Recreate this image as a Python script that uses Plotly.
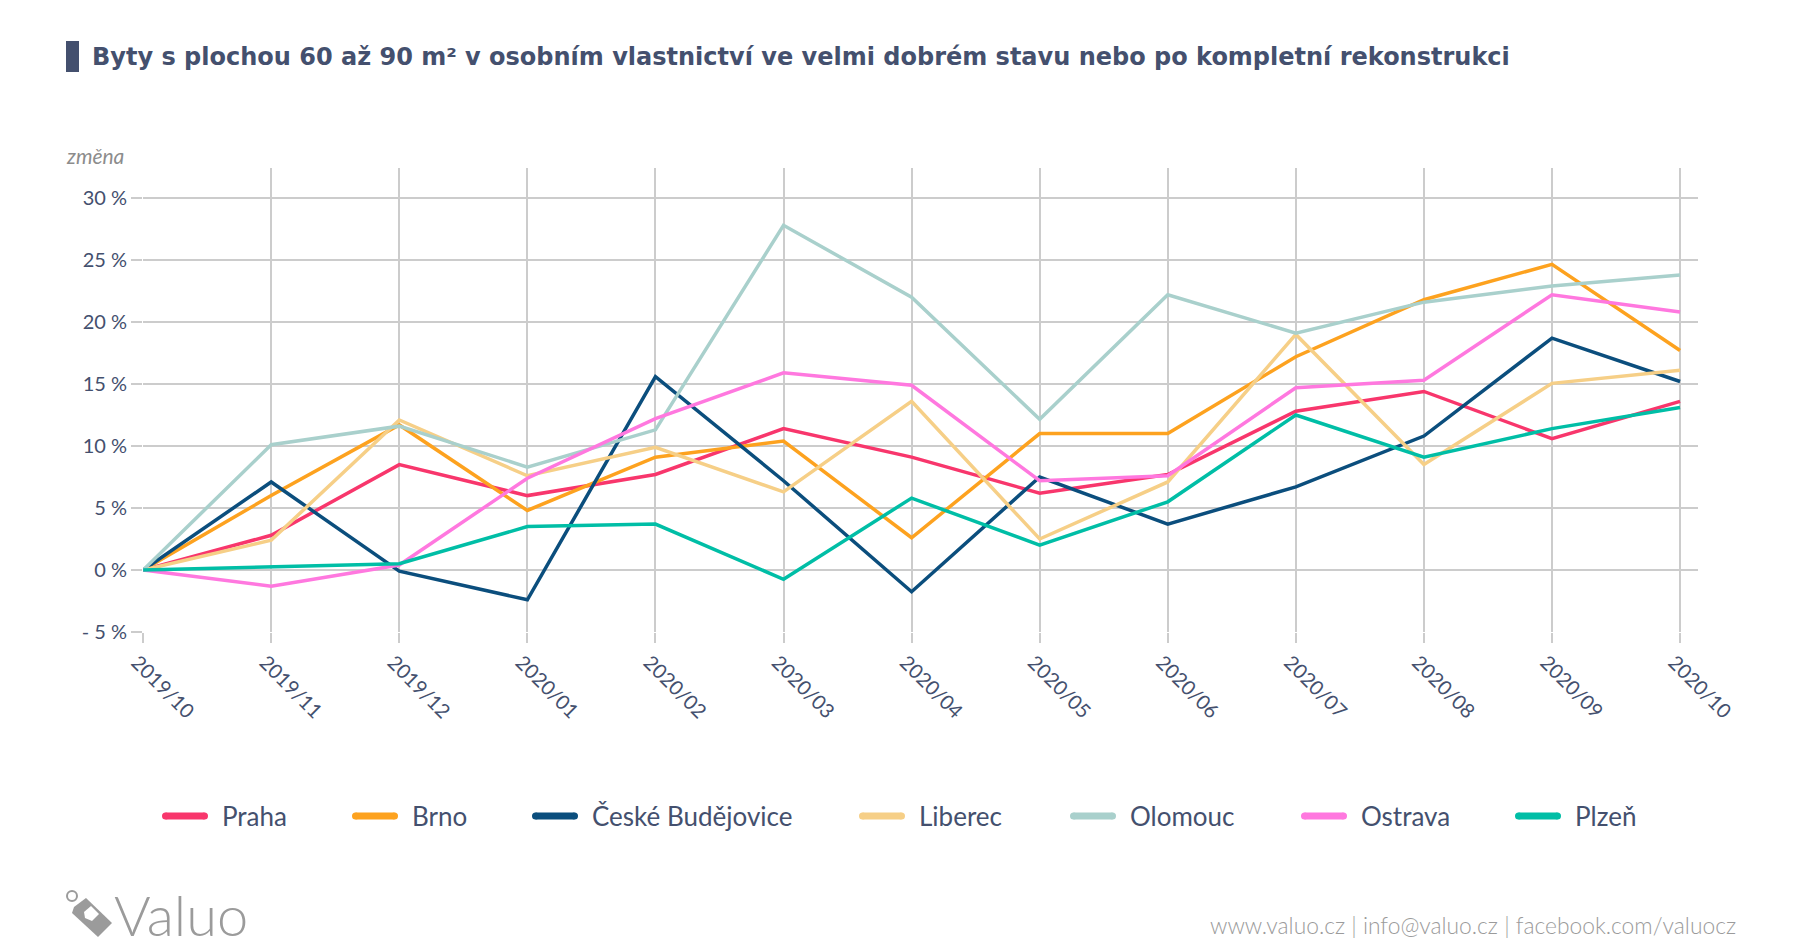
import plotly.graph_objects as go

months = ["2019/10", "2019/11", "2019/12", "2020/01", "2020/02", "2020/03", "2020/04",
          "2020/05", "2020/06", "2020/07", "2020/08", "2020/09", "2020/10"]

praha = [0, 2.8, 8.5, 6.0, 7.7, 11.4, 9.1, 6.2, 7.7, 12.8, 14.4, 10.6, 13.6]
brno = [0, 6.0, 11.7, 4.8, 9.1, 10.4, 2.6, 11.0, 11.0, 17.2, 21.8, 24.65, 17.7]
ceske_budejovice = [0, 7.1, -0.1, -2.4, 15.6, 7.2, -1.75, 7.5, 3.7, 6.7, 10.8, 18.7, 15.2]
liberec = [0, 2.4, 12.1, 7.6, 9.9, 6.3, 13.6, 2.5, 7.1, 19.0, 8.5, 15.05, 16.1]
olomouc = [0, 10.1, 11.6, 8.3, 11.3, 27.8, 22.0, 12.15, 22.2, 19.1, 21.6, 22.9, 23.8]
ostrava = [0, -1.3, 0.4, 7.4, 12.2, 15.9, 14.9, 7.2, 7.6, 14.7, 15.3, 22.2, 20.8]
plzen = [0, 0.27, 0.5, 3.5, 3.7, -0.75, 5.8, 2.0, 5.5, 12.5, 9.1, 11.4, 13.1]

series_names = ["Praha", "Brno", "České Budějovice", "Liberec", "Olomouc", "Ostrava", "Plzeň"]
series_values = [praha, brno, ceske_budejovice, liberec, olomouc, ostrava, plzen]
series_colors = ["#f8366c", "#fda21f", "#0b4e7d", "#f6cf87", "#a9d0cc", "#ff78df", "#00bea6"]

y_tickvals = [-5, 0, 5, 10, 15, 20, 25, 30]
y_ticktext = ["- 5 %", "0 %", "5 %", "10 %", "15 %", "20 %", "25 %", "30 %"]

title_text = "Byty s plochou 60 až 90 m² v osobním vlastnictví ve velmi dobrém stavu nebo po kompletní rekonstrukci"
footer_text = "www.valuo.cz | info@valuo.cz | facebook.com/valuocz"

# the page body has an 8px margin: the figure is sized/positioned to compensate
OFF = 8
W, H = 1800 - OFF, 950 - OFF
# plot area in page pixels
PL, PR, PT, PB = 143, 1698, 168, 632
TXT = "#44506e"
GRID = "#cccccc"
GREY = "#9b9b9b"


def px(x):
    return (x - PL) / (PR - PL)


def py(y):
    return (PB - y) / (PB - PT)


fig = go.Figure()
for name, vals, col in zip(series_names, series_values, series_colors):
    fig.add_trace(go.Scatter(x=months, y=vals, name=name, mode="lines",
                             line=dict(color=col, width=3.5), showlegend=False))

shapes = []
annotations = []

# title bar + title
shapes.append(dict(type="rect", xref="paper", yref="paper", x0=px(66), x1=px(79), y0=py(72), y1=py(41),
                   fillcolor=TXT, line=dict(width=0)))
annotations.append(dict(text="<b>" + title_text + "</b>", xref="paper", yref="paper", x=px(90), y=py(57),
                        xanchor="left", yanchor="middle", showarrow=False,
                        font=dict(family="DejaVu Sans", size=24, color=TXT)))

# axis caption
annotations.append(dict(text="<i>změna</i>", xref="paper", yref="paper", x=px(126), y=py(156),
                        xanchor="right", yanchor="middle", showarrow=False,
                        font=dict(family="Lato", size=21, color="#8c8c8c")))

# legend (custom drawn keys)
legend_text_x = [220, 410, 590, 917, 1128, 1359, 1573]
LY = 816
for name, col, tx in zip(series_names, series_colors, legend_text_x):
    sx = tx - 58
    r = 3.5
    shapes.append(dict(type="line", xref="paper", yref="paper", x0=px(sx + r), x1=px(sx + 46 - r),
                       y0=py(LY), y1=py(LY), line=dict(color=col, width=7)))
    for cx in (sx + r, sx + 46 - r):
        shapes.append(dict(type="circle", xref="paper", yref="paper", x0=px(cx - r), x1=px(cx + r),
                           y0=py(LY + r), y1=py(LY - r), fillcolor=col, line=dict(width=0)))
    annotations.append(dict(text=name, xref="paper", yref="paper", x=px(tx), y=py(LY),
                            xanchor="left", yanchor="middle", showarrow=False,
                            font=dict(family="Lato", size=26, color=TXT)))

# logo: tag icon
shapes.append(dict(type="circle", xref="paper", yref="paper", x0=px(67), x1=px(77), y0=py(901), y1=py(891),
                   line=dict(color=GREY, width=2)))
tag = [(74, 907), (86, 898), (112, 923), (98, 937), (72, 913)]
path = "M " + " L ".join(f"{px(a)},{py(b)}" for a, b in tag) + " Z"
shapes.append(dict(type="path", xref="paper", yref="paper", path=path, fillcolor=GREY, line=dict(width=0)))
inner = [(84, 912), (91, 906), (99, 914), (92, 921), (85, 918)]
path2 = "M " + " L ".join(f"{px(a)},{py(b)}" for a, b in inner) + " Z"
shapes.append(dict(type="path", xref="paper", yref="paper", path=path2, fillcolor="white", line=dict(width=0)))
annotations.append(dict(text="Valuo", xref="paper", yref="paper", x=px(112), y=py(914),
                        xanchor="left", yanchor="middle", showarrow=False,
                        font=dict(family="Lato", size=56, color=GREY, weight=300)))

# footer text
annotations.append(dict(text=footer_text, xref="paper", yref="paper", x=px(1738), y=py(925),
                        xanchor="right", yanchor="middle", showarrow=False,
                        font=dict(family="Lato", size=22.8, color=GREY, weight=300)))

fig.update_layout(
    width=W, height=H,
    margin=dict(l=PL - OFF, r=1800 - PR, t=PT - OFF, b=950 - PB, pad=0),
    paper_bgcolor="white", plot_bgcolor="white",
    showlegend=False,
    shapes=shapes, annotations=annotations,
    font=dict(family="Lato", color=TXT),
    xaxis=dict(type="category", categoryorder="array", categoryarray=months,
               range=[-0.001, 12.14], showgrid=True, gridcolor=GRID, gridwidth=1.5,
               ticks="outside", ticklen=10, tickcolor=GRID, tickwidth=1.5,
               tickangle=45, ticklabelshift=-6,
               tickfont=dict(family="Lato", size=20, color=TXT),
               showline=False, zeroline=False),
    yaxis=dict(range=[-5, 32.42], tickvals=y_tickvals, ticktext=y_ticktext,
               showgrid=True, gridcolor=GRID, gridwidth=1.5,
               ticks="outside", ticklen=11, tickcolor=GRID, tickwidth=1.5,
               tickfont=dict(family="Lato", size=20, color=TXT),
               showline=False, zeroline=False),
)

fig.write_html("out.html")
